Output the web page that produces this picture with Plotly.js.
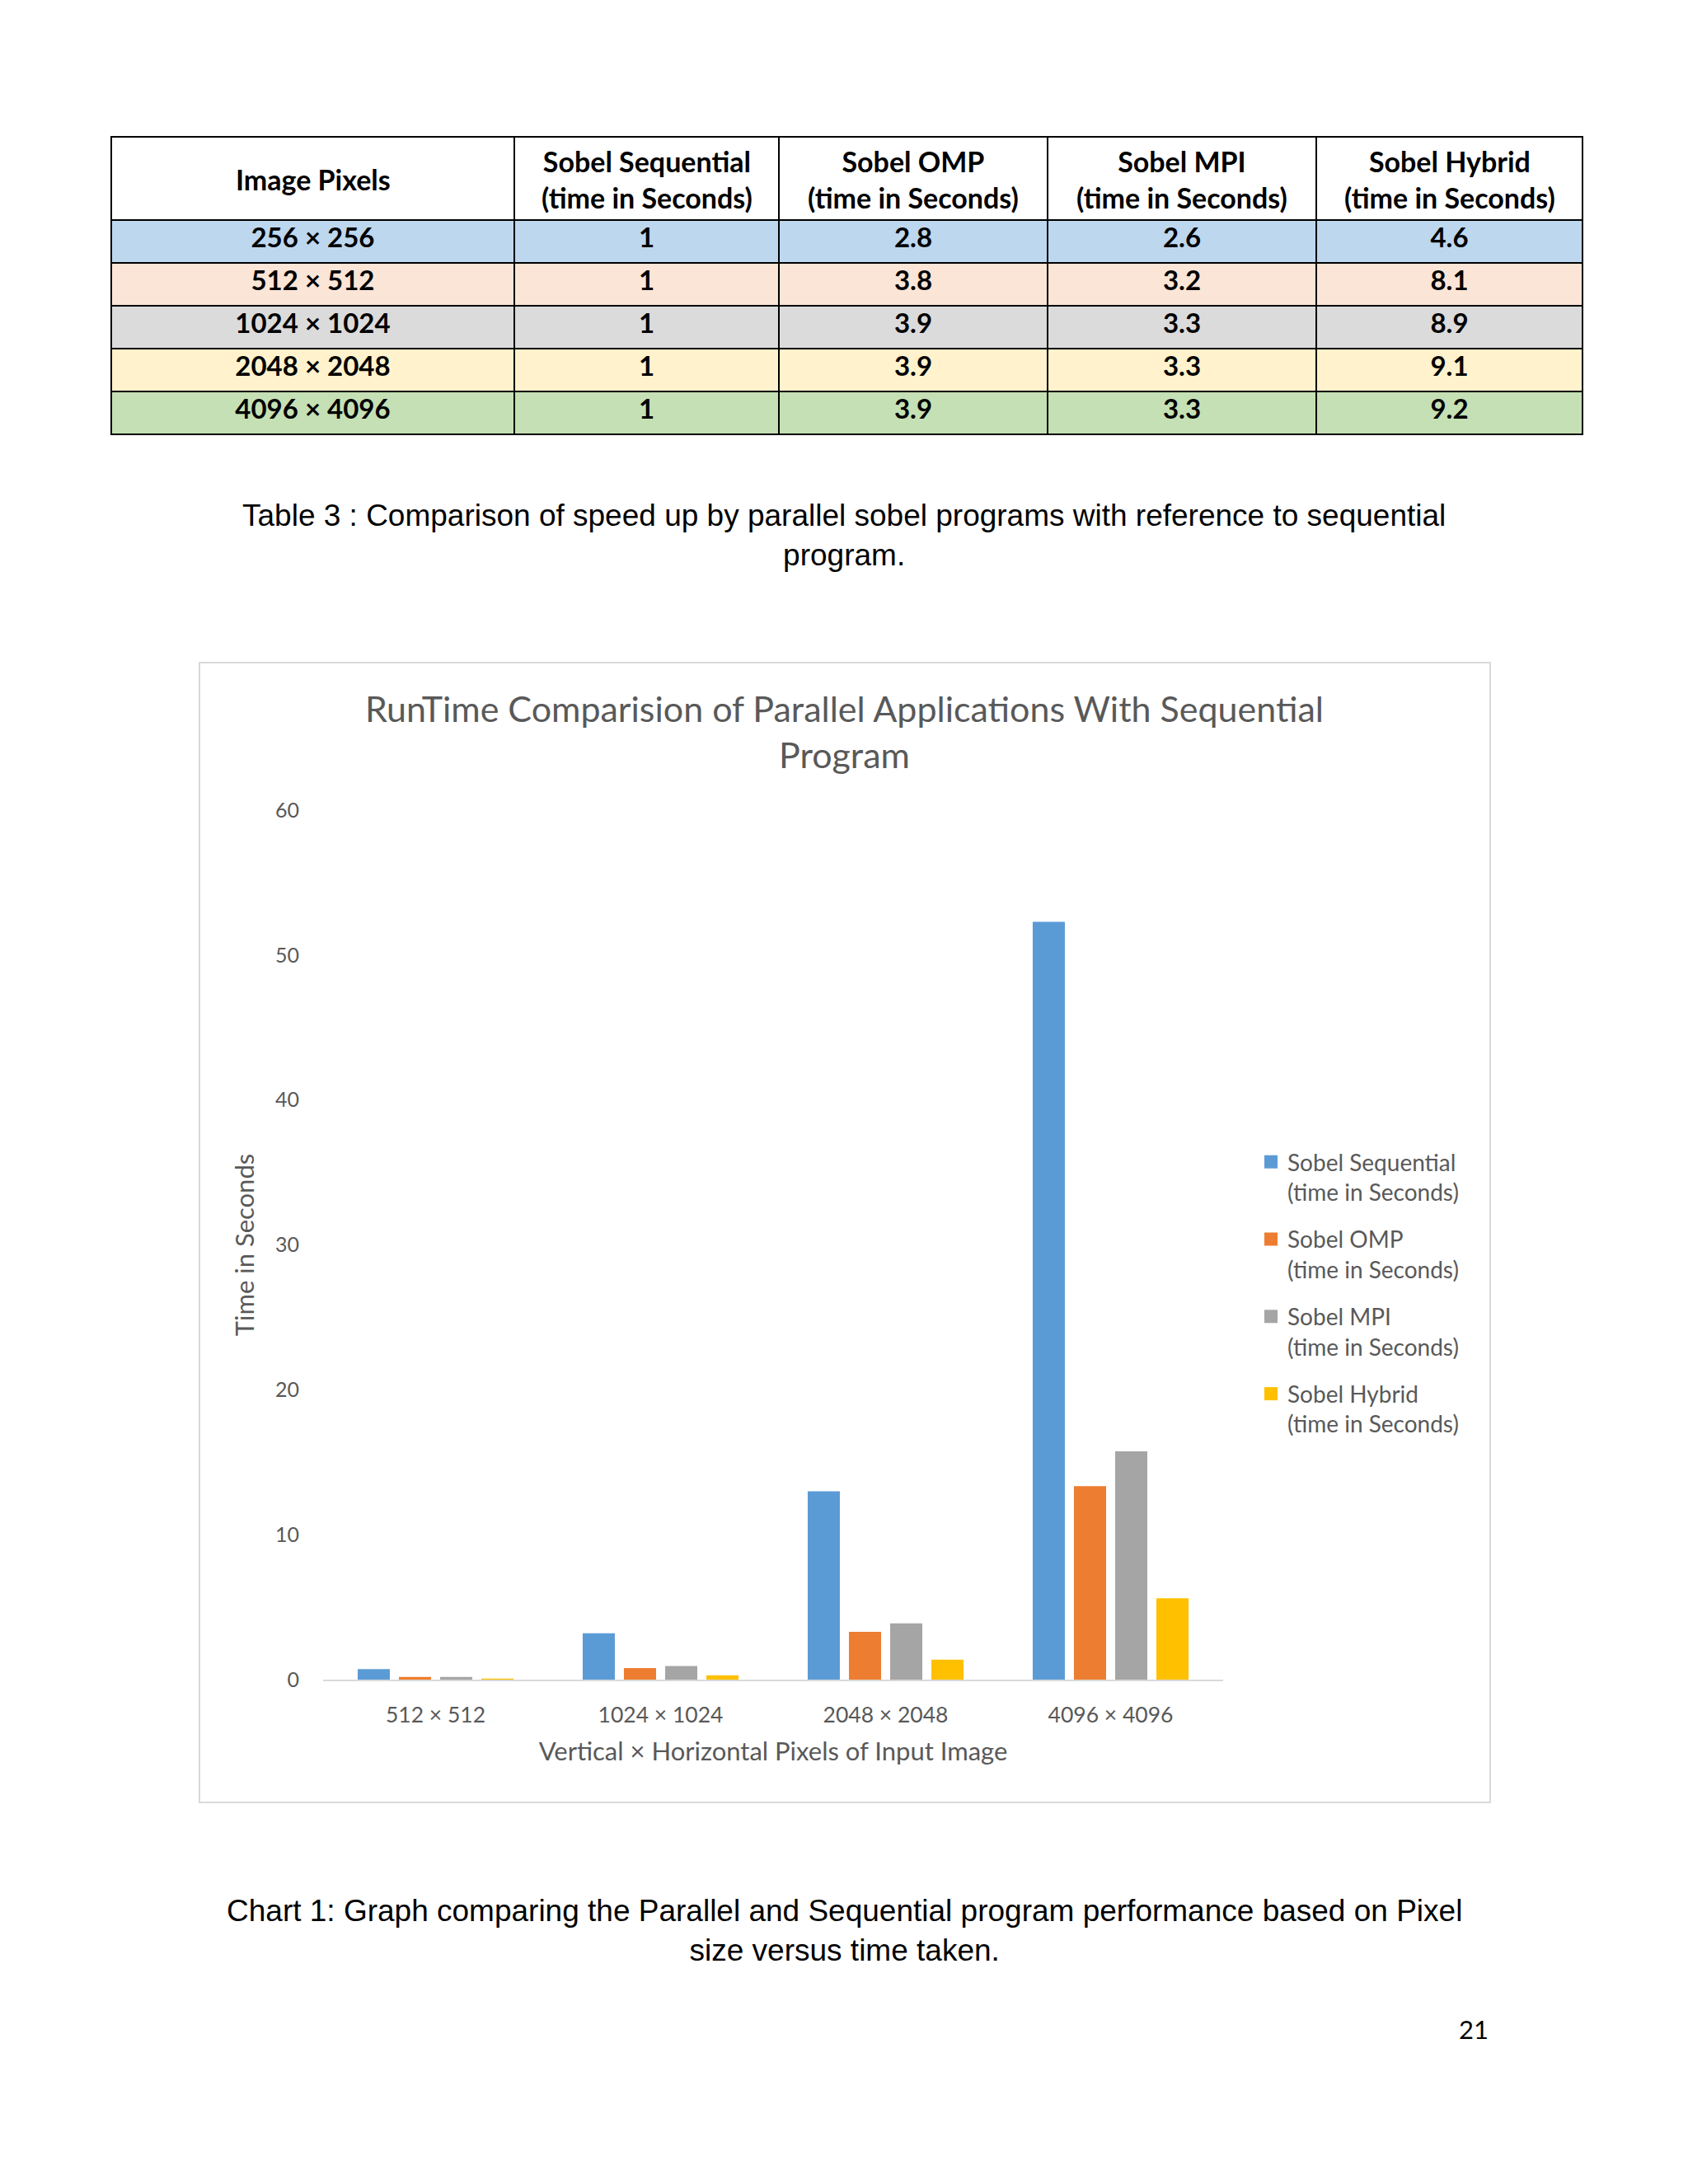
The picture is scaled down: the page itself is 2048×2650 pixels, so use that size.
<!DOCTYPE html>
<html>
<head>
<meta charset="utf-8">
<script src="https://cdn.plot.ly/plotly-3.0.1.min.js"></script>
<style>
  html, body { margin: 0; padding: 0; background: #ffffff; }
  #chart { width: 2048px; height: 2650px; }
</style>
</head>
<body>
<div id="chart"></div>
<script>
// ---- Table data (speed-up) ----
const tableHeaders = ['Image Pixels', 'Sobel Sequential<br>(time in Seconds)', 'Sobel OMP<br>(time in Seconds)', 'Sobel MPI<br>(time in Seconds)', 'Sobel Hybrid<br>(time in Seconds)'];
const tableSizes = ['256 × 256', '512 × 512', '1024 × 1024', '2048 × 2048', '4096 × 4096'];
const speedSeq = ['1', '1', '1', '1', '1'];
const speedOmp = ['2.8', '3.8', '3.9', '3.9', '3.9'];
const speedMpi = ['2.6', '3.2', '3.3', '3.3', '3.3'];
const speedHyb = ['4.6', '8.1', '8.9', '9.1', '9.2'];
const rowColors = ['#BDD7EE', '#FBE5D6', '#DBDBDB', '#FFF2CC', '#C5E0B4'];

// ---- Chart data (run time in seconds) ----
const categories = ['512 × 512', '1024 × 1024', '2048 × 2048', '4096 × 4096'];
const seqTime = [0.73, 3.2, 13.0, 52.3];
const ompTime = [0.19, 0.8, 3.3, 13.35];
const mpiTime = [0.19, 0.94, 3.88, 15.75];
const hybTime = [0.07, 0.3, 1.38, 5.62];
const seriesNames = ['Sobel Sequential<br>(time in Seconds)', 'Sobel OMP<br>(time in Seconds)', 'Sobel MPI<br>(time in Seconds)', 'Sobel Hybrid<br>(time in Seconds)'];
const seriesColors = ['#5B9BD5', '#ED7D31', '#A5A5A5', '#FFC000'];
const yTicks = [0, 10, 20, 30, 40, 50, 60];

const W = 2048, H = 2650;
const px = x => x / W;
const py = y => 1 - y / H;

const textGray = '#595959';
const chartFont = 'Lato, "Open Sans", sans-serif';

// table geometry
const tableLeft = 135, tableRight = 1920, tableTop = 166, headerH = 101, rowH = 52;
const colWidths = [489, 321, 326, 326, 323];

// header text drawn as centred annotations (table headers cannot centre each line / vertically)
const colCenters = [];
{
  let acc = tableLeft;
  colWidths.forEach(w => { colCenters.push(acc + w / 2); acc += w; });
}
const headerAnnotations = tableHeaders.map((h, i) => ({
  text: h, xref: 'paper', yref: 'paper', x: px(colCenters[i]), y: py(tableTop + headerH / 2 + 1),
  xanchor: 'center', yanchor: 'middle', align: 'center', showarrow: false,
  font: { family: chartFont, size: 34, color: '#000000', weight: 'bold' }
}));

const tableTrace = {
  type: 'table',
  domain: { x: [px(tableLeft), px(tableRight)], y: [py(tableTop + headerH + rowH * 5 + 4), py(tableTop)] },
  columnwidth: colWidths,
  header: {
    values: tableHeaders.map(() => ''),
    height: headerH,
    align: 'center',
    line: { color: '#000000', width: 2 },
    fill: { color: '#ffffff' },
    font: { family: chartFont, size: 34, color: '#000000', weight: 'bold' }
  },
  cells: {
    values: [tableSizes, speedSeq, speedOmp, speedMpi, speedHyb],
    height: rowH,
    align: 'center',
    line: { color: '#000000', width: 2 },
    fill: { color: [rowColors, rowColors, rowColors, rowColors, rowColors] },
    font: { family: chartFont, size: 33, color: '#000000', weight: 'bold' }
  }
};

const allSeries = [seqTime, ompTime, mpiTime, hybTime];
const barTraces = allSeries.map((vals, i) => ({
  type: 'bar',
  x: categories,
  y: vals,
  name: seriesNames[i],
  marker: { color: seriesColors[i] },
  legendgroup: 'g' + i,
  showlegend: false,
  hoverinfo: 'skip'
}));
// legend entries with larger square swatches
const legendTraces = seriesNames.map((nm, i) => ({
  type: 'scatter',
  mode: 'markers',
  x: [categories[0]],
  y: [null],
  name: nm,
  legendgroup: 'g' + i,
  marker: { symbol: 'square', size: 17, color: seriesColors[i] },
  hoverinfo: 'skip'
}));

const layout = {
  width: W,
  height: H,
  margin: { l: 0, r: 0, t: 0, b: 0 },
  paper_bgcolor: '#ffffff',
  plot_bgcolor: '#ffffff',
  barmode: 'group',
  bargap: 0.267,
  bargroupgap: 0.22,
  showlegend: true,
  legend: {
    x: px(1522), y: py(1385), xanchor: 'left', yanchor: 'top',
    font: { family: chartFont, size: 28, color: textGray },
    tracegroupgap: 18,
    valign: 'top',
    itemwidth: 30,
    itemclick: false,
    bgcolor: 'rgba(0,0,0,0)'
  },
  xaxis: {
    domain: [px(392), px(1484)],
    anchor: 'y',
    type: 'category',
    showgrid: false,
    showline: true,
    linecolor: '#D9D9D9',
    linewidth: 2,
    ticks: '',
    ticklabelstandoff: 18,
    tickfont: { family: chartFont, size: 26.5, color: textGray },
    title: { text: 'Vertical × Horizontal Pixels of Input Image', font: { family: chartFont, size: 31, color: textGray }, standoff: 20 },
    fixedrange: true
  },
  yaxis: {
    domain: [py(2038), py(983)],
    anchor: 'x',
    range: [0, 60],
    tickvals: yTicks,
    showgrid: false,
    zeroline: false,
    showline: false,
    ticks: '',
    ticklabelstandoff: 28,
    tickfont: { family: chartFont, size: 25, color: textGray },
    title: { text: 'Time in Seconds', font: { family: chartFont, size: 31, color: textGray }, standoff: 16 },
    fixedrange: true
  },
  shapes: [
    { type: 'rect', xref: 'paper', yref: 'paper', x0: px(242), x1: px(1808), y0: py(2187), y1: py(804),
      line: { color: '#D9D9D9', width: 2 }, fillcolor: 'rgba(0,0,0,0)', layer: 'below' }
  ],
  annotations: headerAnnotations.concat([
    { text: 'RunTime Comparision of Parallel Applications With Sequential<br>Program', xref: 'paper', yref: 'paper',
      x: px(1024), y: py(887), xanchor: 'center', yanchor: 'middle', showarrow: false,
      font: { family: chartFont, size: 43, color: textGray } },
    { text: 'Table 3 : Comparison of speed up by parallel sobel programs with reference to sequential<br>program.',
      xref: 'paper', yref: 'paper', x: px(1024), y: py(650), xanchor: 'center', yanchor: 'middle', showarrow: false,
      font: { family: 'Liberation Sans, Arial, sans-serif', size: 37, color: '#000000' } },
    { text: 'Chart 1: Graph comparing the Parallel and Sequential program performance based on Pixel<br>size versus time taken.',
      xref: 'paper', yref: 'paper', x: px(1024), y: py(2342), xanchor: 'center', yanchor: 'middle', showarrow: false,
      font: { family: 'Liberation Sans, Arial, sans-serif', size: 37, color: '#000000' } },
    { text: '21', xref: 'paper', yref: 'paper', x: px(1788), y: py(2462), xanchor: 'center', yanchor: 'middle', showarrow: false,
      font: { family: chartFont, size: 31, color: '#000000' } }
  ])
};

Plotly.newPlot('chart', [tableTrace].concat(barTraces, legendTraces), layout, { staticPlot: true, displayModeBar: false });
</script>
</body>
</html>
